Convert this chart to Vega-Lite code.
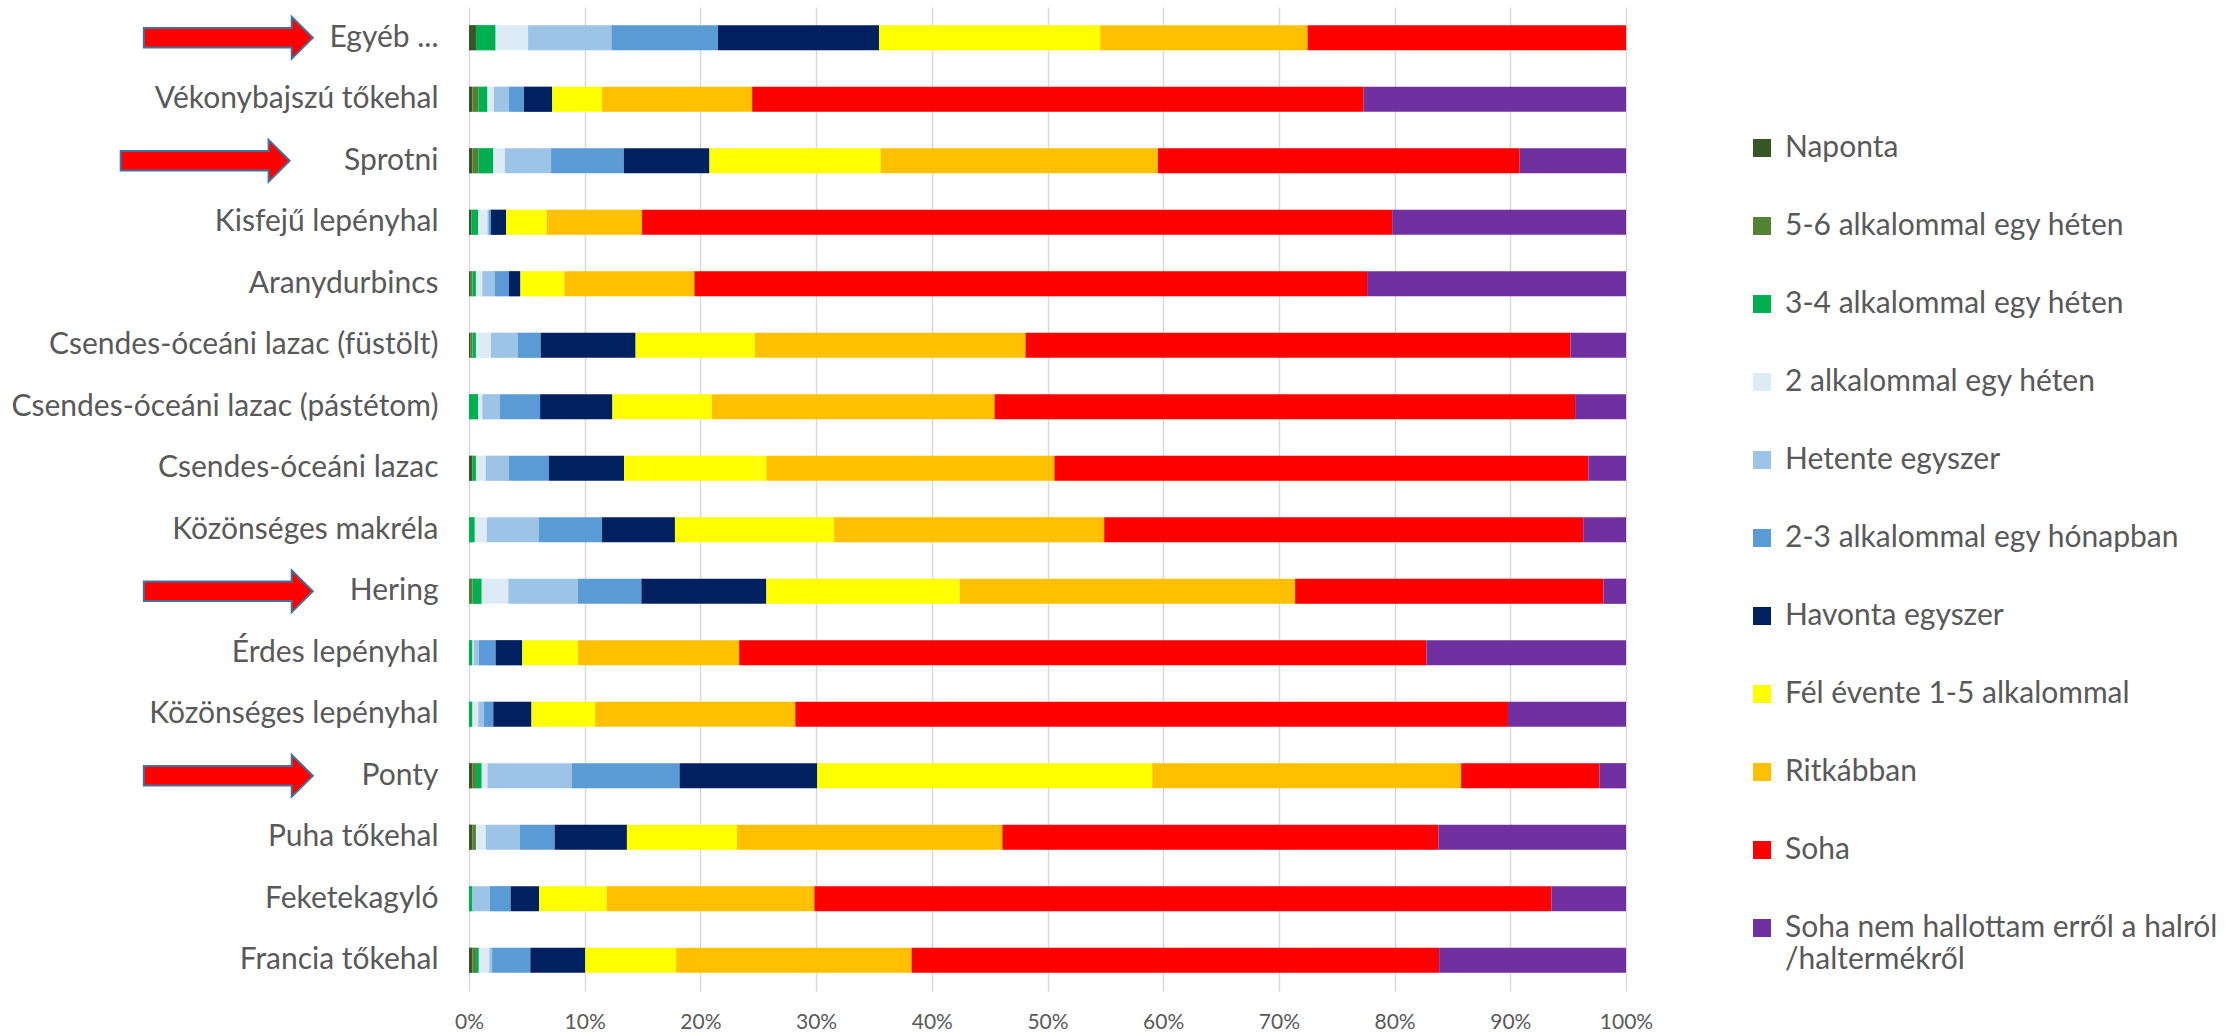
{
  "$schema": "https://vega.github.io/schema/vega-lite/v6.json",
  "width": 1157,
  "height": 984,
  "autosize": {"type": "none"},
  "padding": {"left": 469, "top": 7, "right": 611, "bottom": 42},
  "background": "#FFFFFF",
  "config": {
    "view": {"stroke": null},
    "font": "Lato",
    "axis": {"labelFont": "Lato", "labelColor": "#595959"},
    "legend": {"labelFont": "Lato", "labelColor": "#595959"}
  },
  "datasets": {
    "kategoriak": [
      {"gyak": "Naponta", "sorrend": 1},
      {"gyak": "5-6 alkalommal egy héten", "sorrend": 2},
      {"gyak": "3-4 alkalommal egy héten", "sorrend": 3},
      {"gyak": "2 alkalommal egy héten", "sorrend": 4},
      {"gyak": "Hetente egyszer", "sorrend": 5},
      {"gyak": "2-3 alkalommal egy hónapban", "sorrend": 6},
      {"gyak": "Havonta egyszer", "sorrend": 7},
      {"gyak": "Fél évente 1-5 alkalommal", "sorrend": 8},
      {"gyak": "Ritkábban", "sorrend": 9},
      {"gyak": "Soha", "sorrend": 10},
      {"gyak": "Soha nem hallottam erről a halról /haltermékről", "sorrend": 11}
    ],
    "gyakorisag": [
      {"hal": "Egyéb ...", "gyak": "Naponta", "v": 0.6},
      {"hal": "Egyéb ...", "gyak": "3-4 alkalommal egy héten", "v": 1.7},
      {"hal": "Egyéb ...", "gyak": "2 alkalommal egy héten", "v": 2.8},
      {"hal": "Egyéb ...", "gyak": "Hetente egyszer", "v": 7.2},
      {"hal": "Egyéb ...", "gyak": "2-3 alkalommal egy hónapban", "v": 9.2},
      {"hal": "Egyéb ...", "gyak": "Havonta egyszer", "v": 13.9},
      {"hal": "Egyéb ...", "gyak": "Fél évente 1-5 alkalommal", "v": 19.1},
      {"hal": "Egyéb ...", "gyak": "Ritkábban", "v": 17.9},
      {"hal": "Egyéb ...", "gyak": "Soha", "v": 27.5},

      {"hal": "Vékonybajszú tőkehal", "gyak": "Naponta", "v": 0.3},
      {"hal": "Vékonybajszú tőkehal", "gyak": "5-6 alkalommal egy héten", "v": 0.5},
      {"hal": "Vékonybajszú tőkehal", "gyak": "3-4 alkalommal egy héten", "v": 0.8},
      {"hal": "Vékonybajszú tőkehal", "gyak": "2 alkalommal egy héten", "v": 0.55},
      {"hal": "Vékonybajszú tőkehal", "gyak": "Hetente egyszer", "v": 1.3},
      {"hal": "Vékonybajszú tőkehal", "gyak": "2-3 alkalommal egy hónapban", "v": 1.3},
      {"hal": "Vékonybajszú tőkehal", "gyak": "Havonta egyszer", "v": 2.45},
      {"hal": "Vékonybajszú tőkehal", "gyak": "Fél évente 1-5 alkalommal", "v": 4.3},
      {"hal": "Vékonybajszú tőkehal", "gyak": "Ritkábban", "v": 13.0},
      {"hal": "Vékonybajszú tőkehal", "gyak": "Soha", "v": 52.9},
      {"hal": "Vékonybajszú tőkehal", "gyak": "Soha nem hallottam erről a halról /haltermékről", "v": 22.7},

      {"hal": "Sprotni", "gyak": "Naponta", "v": 0.3},
      {"hal": "Sprotni", "gyak": "5-6 alkalommal egy héten", "v": 0.5},
      {"hal": "Sprotni", "gyak": "3-4 alkalommal egy héten", "v": 1.3},
      {"hal": "Sprotni", "gyak": "2 alkalommal egy héten", "v": 1.0},
      {"hal": "Sprotni", "gyak": "Hetente egyszer", "v": 4.0},
      {"hal": "Sprotni", "gyak": "2-3 alkalommal egy hónapban", "v": 6.3},
      {"hal": "Sprotni", "gyak": "Havonta egyszer", "v": 7.4},
      {"hal": "Sprotni", "gyak": "Fél évente 1-5 alkalommal", "v": 14.8},
      {"hal": "Sprotni", "gyak": "Ritkábban", "v": 24.0},
      {"hal": "Sprotni", "gyak": "Soha", "v": 31.3},
      {"hal": "Sprotni", "gyak": "Soha nem hallottam erről a halról /haltermékről", "v": 9.2},

      {"hal": "Kisfejű lepényhal", "gyak": "Naponta", "v": 0.2},
      {"hal": "Kisfejű lepényhal", "gyak": "3-4 alkalommal egy héten", "v": 0.6},
      {"hal": "Kisfejű lepényhal", "gyak": "2 alkalommal egy héten", "v": 0.8},
      {"hal": "Kisfejű lepényhal", "gyak": "Hetente egyszer", "v": 0.1},
      {"hal": "Kisfejű lepényhal", "gyak": "2-3 alkalommal egy hónapban", "v": 0.2},
      {"hal": "Kisfejű lepényhal", "gyak": "Havonta egyszer", "v": 1.3},
      {"hal": "Kisfejű lepényhal", "gyak": "Fél évente 1-5 alkalommal", "v": 3.5},
      {"hal": "Kisfejű lepényhal", "gyak": "Ritkábban", "v": 8.25},
      {"hal": "Kisfejű lepényhal", "gyak": "Soha", "v": 64.8},
      {"hal": "Kisfejű lepényhal", "gyak": "Soha nem hallottam erről a halról /haltermékről", "v": 20.2},

      {"hal": "Aranydurbincs", "gyak": "Naponta", "v": 0.15},
      {"hal": "Aranydurbincs", "gyak": "5-6 alkalommal egy héten", "v": 0.15},
      {"hal": "Aranydurbincs", "gyak": "3-4 alkalommal egy héten", "v": 0.3},
      {"hal": "Aranydurbincs", "gyak": "2 alkalommal egy héten", "v": 0.55},
      {"hal": "Aranydurbincs", "gyak": "Hetente egyszer", "v": 1.05},
      {"hal": "Aranydurbincs", "gyak": "2-3 alkalommal egy hónapban", "v": 1.25},
      {"hal": "Aranydurbincs", "gyak": "Havonta egyszer", "v": 1.0},
      {"hal": "Aranydurbincs", "gyak": "Fél évente 1-5 alkalommal", "v": 3.8},
      {"hal": "Aranydurbincs", "gyak": "Ritkábban", "v": 11.25},
      {"hal": "Aranydurbincs", "gyak": "Soha", "v": 58.2},
      {"hal": "Aranydurbincs", "gyak": "Soha nem hallottam erről a halról /haltermékről", "v": 22.4},

      {"hal": "Csendes-óceáni lazac (füstölt)", "gyak": "Naponta", "v": 0.1},
      {"hal": "Csendes-óceáni lazac (füstölt)", "gyak": "5-6 alkalommal egy héten", "v": 0.2},
      {"hal": "Csendes-óceáni lazac (füstölt)", "gyak": "3-4 alkalommal egy héten", "v": 0.3},
      {"hal": "Csendes-óceáni lazac (füstölt)", "gyak": "2 alkalommal egy héten", "v": 1.3},
      {"hal": "Csendes-óceáni lazac (füstölt)", "gyak": "Hetente egyszer", "v": 2.3},
      {"hal": "Csendes-óceáni lazac (füstölt)", "gyak": "2-3 alkalommal egy hónapban", "v": 2.0},
      {"hal": "Csendes-óceáni lazac (füstölt)", "gyak": "Havonta egyszer", "v": 8.2},
      {"hal": "Csendes-óceáni lazac (füstölt)", "gyak": "Fél évente 1-5 alkalommal", "v": 10.3},
      {"hal": "Csendes-óceáni lazac (füstölt)", "gyak": "Ritkábban", "v": 23.4},
      {"hal": "Csendes-óceáni lazac (füstölt)", "gyak": "Soha", "v": 47.1},
      {"hal": "Csendes-óceáni lazac (füstölt)", "gyak": "Soha nem hallottam erről a halról /haltermékről", "v": 4.8},

      {"hal": "Csendes-óceáni lazac (pástétom)", "gyak": "3-4 alkalommal egy héten", "v": 0.8},
      {"hal": "Csendes-óceáni lazac (pástétom)", "gyak": "2 alkalommal egy héten", "v": 0.35},
      {"hal": "Csendes-óceáni lazac (pástétom)", "gyak": "Hetente egyszer", "v": 1.5},
      {"hal": "Csendes-óceáni lazac (pástétom)", "gyak": "2-3 alkalommal egy hónapban", "v": 3.5},
      {"hal": "Csendes-óceáni lazac (pástétom)", "gyak": "Havonta egyszer", "v": 6.25},
      {"hal": "Csendes-óceáni lazac (pástétom)", "gyak": "Fél évente 1-5 alkalommal", "v": 8.6},
      {"hal": "Csendes-óceáni lazac (pástétom)", "gyak": "Ritkábban", "v": 24.45},
      {"hal": "Csendes-óceáni lazac (pástétom)", "gyak": "Soha", "v": 50.2},
      {"hal": "Csendes-óceáni lazac (pástétom)", "gyak": "Soha nem hallottam erről a halról /haltermékről", "v": 4.4},

      {"hal": "Csendes-óceáni lazac", "gyak": "Naponta", "v": 0.3},
      {"hal": "Csendes-óceáni lazac", "gyak": "3-4 alkalommal egy héten", "v": 0.3},
      {"hal": "Csendes-óceáni lazac", "gyak": "2 alkalommal egy héten", "v": 0.85},
      {"hal": "Csendes-óceáni lazac", "gyak": "Hetente egyszer", "v": 2.0},
      {"hal": "Csendes-óceáni lazac", "gyak": "2-3 alkalommal egy hónapban", "v": 3.45},
      {"hal": "Csendes-óceáni lazac", "gyak": "Havonta egyszer", "v": 6.5},
      {"hal": "Csendes-óceáni lazac", "gyak": "Fél évente 1-5 alkalommal", "v": 12.3},
      {"hal": "Csendes-óceáni lazac", "gyak": "Ritkábban", "v": 24.9},
      {"hal": "Csendes-óceáni lazac", "gyak": "Soha", "v": 46.15},
      {"hal": "Csendes-óceáni lazac", "gyak": "Soha nem hallottam erről a halról /haltermékről", "v": 3.25},

      {"hal": "Közönséges makréla", "gyak": "3-4 alkalommal egy héten", "v": 0.5},
      {"hal": "Közönséges makréla", "gyak": "2 alkalommal egy héten", "v": 1.05},
      {"hal": "Közönséges makréla", "gyak": "Hetente egyszer", "v": 4.5},
      {"hal": "Közönséges makréla", "gyak": "2-3 alkalommal egy hónapban", "v": 5.45},
      {"hal": "Közönséges makréla", "gyak": "Havonta egyszer", "v": 6.3},
      {"hal": "Közönséges makréla", "gyak": "Fél évente 1-5 alkalommal", "v": 13.75},
      {"hal": "Közönséges makréla", "gyak": "Ritkábban", "v": 23.35},
      {"hal": "Közönséges makréla", "gyak": "Soha", "v": 41.4},
      {"hal": "Közönséges makréla", "gyak": "Soha nem hallottam erről a halról /haltermékről", "v": 3.7},

      {"hal": "Hering", "gyak": "5-6 alkalommal egy héten", "v": 0.3},
      {"hal": "Hering", "gyak": "3-4 alkalommal egy héten", "v": 0.8},
      {"hal": "Hering", "gyak": "2 alkalommal egy héten", "v": 2.3},
      {"hal": "Hering", "gyak": "Hetente egyszer", "v": 6.0},
      {"hal": "Hering", "gyak": "2-3 alkalommal egy hónapban", "v": 5.5},
      {"hal": "Hering", "gyak": "Havonta egyszer", "v": 10.8},
      {"hal": "Hering", "gyak": "Fél évente 1-5 alkalommal", "v": 16.7},
      {"hal": "Hering", "gyak": "Ritkábban", "v": 29.0},
      {"hal": "Hering", "gyak": "Soha", "v": 26.65},
      {"hal": "Hering", "gyak": "Soha nem hallottam erről a halról /haltermékről", "v": 1.95},

      {"hal": "Érdes lepényhal", "gyak": "3-4 alkalommal egy héten", "v": 0.3},
      {"hal": "Érdes lepényhal", "gyak": "2 alkalommal egy héten", "v": 0.1},
      {"hal": "Érdes lepényhal", "gyak": "Hetente egyszer", "v": 0.45},
      {"hal": "Érdes lepényhal", "gyak": "2-3 alkalommal egy hónapban", "v": 1.45},
      {"hal": "Érdes lepényhal", "gyak": "Havonta egyszer", "v": 2.3},
      {"hal": "Érdes lepényhal", "gyak": "Fél évente 1-5 alkalommal", "v": 4.8},
      {"hal": "Érdes lepényhal", "gyak": "Ritkábban", "v": 13.95},
      {"hal": "Érdes lepényhal", "gyak": "Soha", "v": 59.4},
      {"hal": "Érdes lepényhal", "gyak": "Soha nem hallottam erről a halról /haltermékről", "v": 17.25},

      {"hal": "Közönséges lepényhal", "gyak": "3-4 alkalommal egy héten", "v": 0.3},
      {"hal": "Közönséges lepényhal", "gyak": "2 alkalommal egy héten", "v": 0.5},
      {"hal": "Közönséges lepényhal", "gyak": "Hetente egyszer", "v": 0.5},
      {"hal": "Közönséges lepényhal", "gyak": "2-3 alkalommal egy hónapban", "v": 0.8},
      {"hal": "Közönséges lepényhal", "gyak": "Havonta egyszer", "v": 3.3},
      {"hal": "Közönséges lepényhal", "gyak": "Fél évente 1-5 alkalommal", "v": 5.5},
      {"hal": "Közönséges lepényhal", "gyak": "Ritkábban", "v": 17.3},
      {"hal": "Közönséges lepényhal", "gyak": "Soha", "v": 61.6},
      {"hal": "Közönséges lepényhal", "gyak": "Soha nem hallottam erről a halról /haltermékről", "v": 10.2},

      {"hal": "Ponty", "gyak": "Naponta", "v": 0.3},
      {"hal": "Ponty", "gyak": "5-6 alkalommal egy héten", "v": 0.3},
      {"hal": "Ponty", "gyak": "3-4 alkalommal egy héten", "v": 0.5},
      {"hal": "Ponty", "gyak": "2 alkalommal egy héten", "v": 0.5},
      {"hal": "Ponty", "gyak": "Hetente egyszer", "v": 7.3},
      {"hal": "Ponty", "gyak": "2-3 alkalommal egy hónapban", "v": 9.3},
      {"hal": "Ponty", "gyak": "Havonta egyszer", "v": 11.9},
      {"hal": "Ponty", "gyak": "Fél évente 1-5 alkalommal", "v": 28.95},
      {"hal": "Ponty", "gyak": "Ritkábban", "v": 26.7},
      {"hal": "Ponty", "gyak": "Soha", "v": 11.95},
      {"hal": "Ponty", "gyak": "Soha nem hallottam erről a halról /haltermékről", "v": 2.3},

      {"hal": "Puha tőkehal", "gyak": "Naponta", "v": 0.3},
      {"hal": "Puha tőkehal", "gyak": "5-6 alkalommal egy héten", "v": 0.3},
      {"hal": "Puha tőkehal", "gyak": "2 alkalommal egy héten", "v": 0.85},
      {"hal": "Puha tőkehal", "gyak": "Hetente egyszer", "v": 2.95},
      {"hal": "Puha tőkehal", "gyak": "2-3 alkalommal egy hónapban", "v": 3.0},
      {"hal": "Puha tőkehal", "gyak": "Havonta egyszer", "v": 6.25},
      {"hal": "Puha tőkehal", "gyak": "Fél évente 1-5 alkalommal", "v": 9.5},
      {"hal": "Puha tőkehal", "gyak": "Ritkábban", "v": 22.95},
      {"hal": "Puha tőkehal", "gyak": "Soha", "v": 37.7},
      {"hal": "Puha tőkehal", "gyak": "Soha nem hallottam erről a halról /haltermékről", "v": 16.2},

      {"hal": "Feketekagyló", "gyak": "3-4 alkalommal egy héten", "v": 0.3},
      {"hal": "Feketekagyló", "gyak": "Hetente egyszer", "v": 1.5},
      {"hal": "Feketekagyló", "gyak": "2-3 alkalommal egy hónapban", "v": 1.8},
      {"hal": "Feketekagyló", "gyak": "Havonta egyszer", "v": 2.45},
      {"hal": "Feketekagyló", "gyak": "Fél évente 1-5 alkalommal", "v": 5.85},
      {"hal": "Feketekagyló", "gyak": "Ritkábban", "v": 17.95},
      {"hal": "Feketekagyló", "gyak": "Soha", "v": 63.7},
      {"hal": "Feketekagyló", "gyak": "Soha nem hallottam erről a halról /haltermékről", "v": 6.45},

      {"hal": "Francia tőkehal", "gyak": "Naponta", "v": 0.3},
      {"hal": "Francia tőkehal", "gyak": "5-6 alkalommal egy héten", "v": 0.3},
      {"hal": "Francia tőkehal", "gyak": "3-4 alkalommal egy héten", "v": 0.25},
      {"hal": "Francia tőkehal", "gyak": "2 alkalommal egy héten", "v": 0.9},
      {"hal": "Francia tőkehal", "gyak": "Hetente egyszer", "v": 0.25},
      {"hal": "Francia tőkehal", "gyak": "2-3 alkalommal egy hónapban", "v": 3.3},
      {"hal": "Francia tőkehal", "gyak": "Havonta egyszer", "v": 4.75},
      {"hal": "Francia tőkehal", "gyak": "Fél évente 1-5 alkalommal", "v": 7.85},
      {"hal": "Francia tőkehal", "gyak": "Ritkábban", "v": 20.35},
      {"hal": "Francia tőkehal", "gyak": "Soha", "v": 45.6},
      {"hal": "Francia tőkehal", "gyak": "Soha nem hallottam erről a halról /haltermékről", "v": 16.15}
    ]
  },
  "layer": [
    {
      "data": {"name": "gyakorisag"},
      "transform": [
        {"lookup": "gyak", "from": {"data": {"name": "kategoriak"}, "key": "gyak", "fields": ["sorrend"]}}
      ],
      "mark": {"type": "bar"},
      "encoding": {
        "y": {
          "field": "hal", "type": "nominal",
          "sort": ["Egyéb ...", "Vékonybajszú tőkehal", "Sprotni", "Kisfejű lepényhal", "Aranydurbincs", "Csendes-óceáni lazac (füstölt)", "Csendes-óceáni lazac (pástétom)", "Csendes-óceáni lazac", "Közönséges makréla", "Hering", "Érdes lepényhal", "Közönséges lepényhal", "Ponty", "Puha tőkehal", "Feketekagyló", "Francia tőkehal"],
          "scale": {"paddingInner": 0.59, "paddingOuter": 0.295},
          "axis": {"title": null, "domain": false, "ticks": false, "tickSize": 0, "labelPadding": 31, "labelFontSize": 30, "labelLimit": 700, "grid": false}
        },
        "x": {
          "field": "v", "type": "quantitative", "stack": "normalize",
          "scale": {"domain": [0, 1], "nice": false},
          "axis": {"title": null, "values": [0, 0.1, 0.2, 0.3, 0.4, 0.5, 0.6, 0.7, 0.8, 0.9, 1], "format": ".0%", "domain": false, "ticks": false, "tickSize": 0, "labelPadding": 20, "labelFontSize": 21, "grid": true, "gridColor": "#D9D9D9", "gridWidth": 1.5, "labelFlush": false}
        },
        "order": {"field": "sorrend", "type": "quantitative", "sort": "ascending"},
        "color": {
          "field": "gyak", "type": "nominal",
          "sort": ["Naponta", "5-6 alkalommal egy héten", "3-4 alkalommal egy héten", "2 alkalommal egy héten", "Hetente egyszer", "2-3 alkalommal egy hónapban", "Havonta egyszer", "Fél évente 1-5 alkalommal", "Ritkábban", "Soha", "Soha nem hallottam erről a halról /haltermékről"],
          "scale": {
            "domain": ["Naponta", "5-6 alkalommal egy héten", "3-4 alkalommal egy héten", "2 alkalommal egy héten", "Hetente egyszer", "2-3 alkalommal egy hónapban", "Havonta egyszer", "Fél évente 1-5 alkalommal", "Ritkábban", "Soha", "Soha nem hallottam erről a halról /haltermékről"],
            "range": ["#375623", "#548235", "#00B050", "#DDEBF7", "#9DC3E6", "#5B9BD5", "#002060", "#FFFF00", "#FFC000", "#FF0000", "#7030A0"]
          },
          "legend": {
            "title": null, "orient": "none", "legendX": 1278, "legendY": 126, "padding": 0,
            "symbolType": "square", "symbolSize": 324, "symbolStrokeWidth": 0, "symbolOpacity": 1,
            "labelFontSize": 30, "labelOffset": 8, "labelLimit": 700, "rowPadding": 48,
            "labelExpr": "datum.label == 'Soha nem hallottam erről a halról /haltermékről' ? ['Soha nem hallottam erről a halról', '/haltermékről'] : datum.label"
          }
        }
      }
    },
    {
      "data": {"values": [{"hal": "Egyéb ..."}, {"hal": "Hering"}, {"hal": "Ponty"}]},
      "mark": {"type": "point", "shape": "M -1 -0.114 L 0.75 -0.114 L 0.75 -0.247 L 1 0 L 0.75 0.247 L 0.75 0.114 L -1 0.114 Z", "size": 28561, "filled": true, "fill": "#FF0000", "stroke": "#41719C", "strokeWidth": 2, "opacity": 1},
      "encoding": {
        "y": {"field": "hal", "type": "nominal", "sort": ["Egyéb ...", "Vékonybajszú tőkehal", "Sprotni", "Kisfejű lepényhal", "Aranydurbincs", "Csendes-óceáni lazac (füstölt)", "Csendes-óceáni lazac (pástétom)", "Csendes-óceáni lazac", "Közönséges makréla", "Hering", "Érdes lepényhal", "Közönséges lepényhal", "Ponty", "Puha tőkehal", "Feketekagyló", "Francia tőkehal"]},
        "x": {"datum": -0.208}
      }
    },
    {
      "data": {"values": [{"hal": "Sprotni"}]},
      "mark": {"type": "point", "shape": "M -1 -0.114 L 0.75 -0.114 L 0.75 -0.247 L 1 0 L 0.75 0.247 L 0.75 0.114 L -1 0.114 Z", "size": 28561, "filled": true, "fill": "#FF0000", "stroke": "#41719C", "strokeWidth": 2, "opacity": 1},
      "encoding": {
        "y": {"field": "hal", "type": "nominal", "sort": ["Egyéb ...", "Vékonybajszú tőkehal", "Sprotni", "Kisfejű lepényhal", "Aranydurbincs", "Csendes-óceáni lazac (füstölt)", "Csendes-óceáni lazac (pástétom)", "Csendes-óceáni lazac", "Közönséges makréla", "Hering", "Érdes lepényhal", "Közönséges lepényhal", "Ponty", "Puha tőkehal", "Feketekagyló", "Francia tőkehal"]},
        "x": {"datum": -0.228}
      }
    }
  ]
}
